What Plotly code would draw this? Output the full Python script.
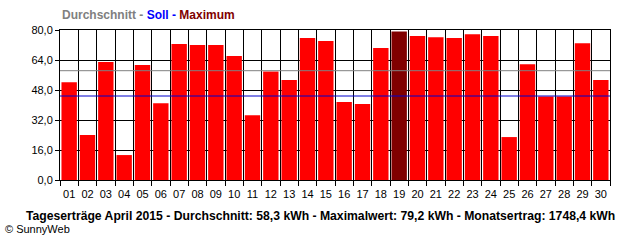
import plotly.graph_objects as go

days = [f"{d:02d}" for d in range(1, 31)]
yields_kwh = [52.2, 24.0, 62.9, 13.3, 61.3, 41.0, 72.5, 72.0, 72.0, 66.1,
              34.6, 57.9, 53.3, 75.7, 74.1, 41.6, 40.5, 70.4, 79.2, 76.8,
              76.2, 75.7, 77.8, 76.8, 22.9, 61.8, 44.6, 44.6, 73.0, 53.3]
average_kwh = 58.3
target_kwh = 44.8
y_ticks = [0, 16, 32, 48, 64, 80]

max_val = max(yields_kwh)
colors = ["#800000" if v == max_val else "#FF0000" for v in yields_kwh]

FONT = "Liberation Sans"

fig = go.Figure()
fig.add_trace(go.Bar(x=days, y=yields_kwh, marker=dict(color=colors, line=dict(width=0)),
                     hoverinfo="x+y"))

fig.add_shape(type="line", xref="paper", x0=0, x1=1, yref="y", y0=average_kwh, y1=average_kwh,
              line=dict(color="#808080", width=1), layer="above")
fig.add_shape(type="line", xref="paper", x0=0, x1=1, yref="y", y0=target_kwh, y1=target_kwh,
              line=dict(color="#0000CC", width=1), layer="above")

fig.add_annotation(xref="paper", yref="paper", x=0, y=1, xanchor="left", yanchor="bottom",
                   yshift=6, showarrow=False,
                   text=("<b><span style='color:#808080'>Durchschnitt - </span>"
                         "<span style='color:#0000FF'>Soll - </span>"
                         "<span style='color:#800000'>Maximum</span></b>"),
                   font=dict(family=FONT, size=12))
fig.add_annotation(xref="paper", yref="paper", x=0.473, y=0, xanchor="center", yanchor="middle",
                   yshift=-36, showarrow=False,
                   text=("<b>Tageserträge April 2015 - Durchschnitt: 58,3 kWh - "
                         "Maximalwert: 79,2 kWh - Monatsertrag: 1748,4 kWh</b>"),
                   font=dict(family=FONT, size=12.2, color="black"))
fig.add_annotation(xref="paper", yref="paper", x=-0.103, y=0, xanchor="left", yanchor="middle",
                   yshift=-49, showarrow=False, text="© SunnyWeb",
                   font=dict(family=FONT, size=11, color="black"))

fig.update_layout(
    width=640, height=240,
    margin=dict(l=60, r=30, t=30, b=60),
    paper_bgcolor="white", plot_bgcolor="white",
    bargap=0.16, showlegend=False,
    separators=",.",
    font=dict(family=FONT, size=11, color="black"),
)
fig.update_xaxes(type="category", tickson="boundaries", showgrid=True, gridcolor="black",
                 gridwidth=1, ticks="outside", ticklen=5, tickcolor="black", tickangle=0,
                 ticklabelstandoff=4,
                 showline=True, linecolor="black", linewidth=1, mirror=True,
                 tickfont=dict(family=FONT, size=11), fixedrange=True)
fig.update_yaxes(range=[0, 80], tickvals=y_ticks, tickformat=".1f", showgrid=True,
                 gridcolor="black", gridwidth=1, ticks="outside", ticklen=4, tickcolor="black",
                 showline=True, linecolor="black", linewidth=1, mirror=True, zeroline=False,
                 tickfont=dict(family=FONT, size=11), fixedrange=True)

fig.write_html("out.html")
